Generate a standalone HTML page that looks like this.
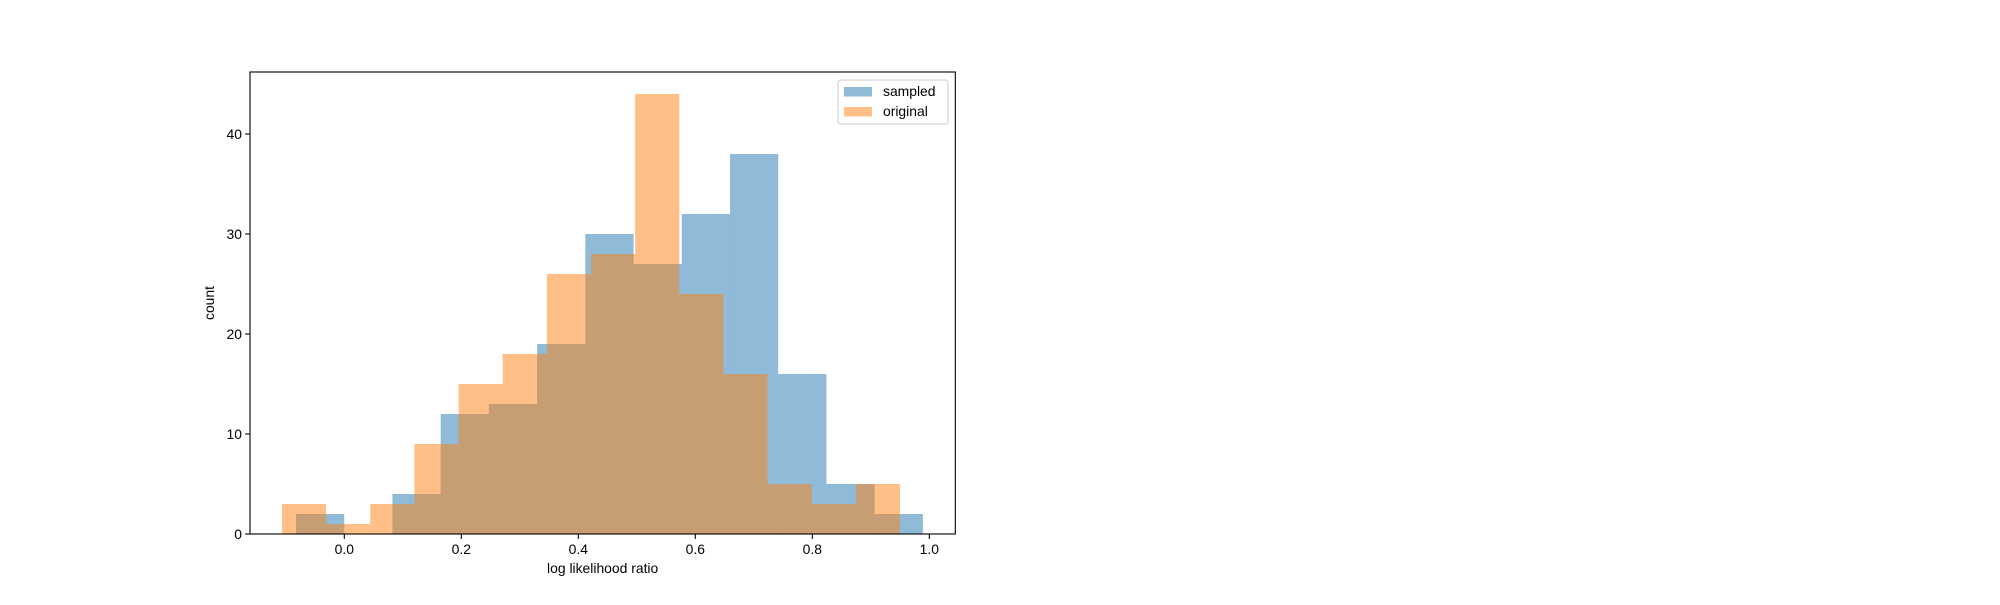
<!DOCTYPE html>
<html><head><meta charset="utf-8"><style>
html,body{margin:0;padding:0;background:#fff;}
svg text{font-family:"Liberation Sans","DejaVu Sans",sans-serif;font-size:13.9px;fill:#000;}
</style></head>
<body>
<svg id="chart" width="2000" height="600" xmlns="http://www.w3.org/2000/svg">
<rect width="2000" height="600" fill="#fff"/>
<g id="bars"></g>
<g id="axes"></g>
</svg>
<script>
const sampledStart = -0.0826;
const sampledEnd = 0.989;
const sampledCounts = [2,0,4,12,13,19,30,27,32,38,16,5,2];
const originalStart = -0.1066;
const originalEnd = 0.950;
const originalCounts = [3,1,3,9,15,18,26,28,44,24,16,5,3,5];
const xTicks = [0.0,0.2,0.4,0.6,0.8,1.0];
const xTickLabels = ["0.0","0.2","0.4","0.6","0.8","1.0"];
const yTicks = [0,10,20,30,40];
const yTickLabels = ["0","10","20","30","40"];

const L=250,R=955.3,T=72,B=534;
const xMin=-0.1612,xMax=1.0444,yMin=0,yMax=46.2;
const sx=v=>L+(v-xMin)/(xMax-xMin)*(R-L);
const sy=v=>B-(v-yMin)/(yMax-yMin)*(B-T);
const NS="http://www.w3.org/2000/svg";
const bars=document.getElementById('bars');
const axes=document.getElementById('axes');
function mk(tag,attrs,parent){const e=document.createElementNS(NS,tag);for(const k in attrs)e.setAttribute(k,attrs[k]);parent.appendChild(e);return e;}

function drawHist(start,end,counts,color,name){
  const w=(end-start)/counts.length;
  counts.forEach((c,i)=>{
    if(c<=0)return;
    const x0=sx(start+i*w),x1=sx(start+(i+1)*w);
    const r=mk('rect',{x:x0,y:sy(c),width:x1-x0,height:sy(0)-sy(c),fill:color,'fill-opacity':0.5},bars);
    
    
  });
}
drawHist(sampledStart,sampledEnd,sampledCounts,'#1f77b4','sampled');
drawHist(originalStart,originalEnd,originalCounts,'#ff7f0e','original');

const fr=mk('rect',{x:L,y:T,width:R-L,height:B-T,fill:'none',stroke:'#000','stroke-width':1.1},axes);



xTicks.forEach((v,i)=>{
  const x=sx(v);
  const t=mk('line',{x1:x,x2:x,y1:B,y2:B+4.9,stroke:'#000','stroke-width':1.1},axes);
  
  
  const lb=mk('text',{x:x,y:B+20,'text-anchor':'middle'},axes);
  lb.textContent=xTickLabels[i];
  
  
});
yTicks.forEach((v,i)=>{
  const y=sy(v);
  const t=mk('line',{x1:L-4.9,x2:L,y1:y,y2:y,stroke:'#000','stroke-width':1.1},axes);
  
  
  const lb=mk('text',{x:L-8,y:y+5,'text-anchor':'end'},axes);
  lb.textContent=yTickLabels[i];
  
  
});
const xl=mk('text',{x:(L+R)/2,y:573,'text-anchor':'middle'},axes);
xl.textContent='log likelihood ratio';


const yl=mk('text',{x:0,y:0,'text-anchor':'middle',transform:'translate(214,'+((T+B)/2)+') rotate(-90)'},axes);
yl.textContent='count';



const lg=mk('g',{},axes);


mk('rect',{x:838,y:80,width:110,height:44,rx:3,fill:'#fff','fill-opacity':0.8,stroke:'#ccc','stroke-width':1},lg);
const e1=mk('rect',{x:844,y:87,width:28,height:9.5,fill:'#1f77b4','fill-opacity':0.5},lg);


const t1=mk('text',{x:883,y:96},lg);t1.textContent='sampled';


const e2=mk('rect',{x:844,y:107,width:28,height:9.5,fill:'#ff7f0e','fill-opacity':0.5},lg);


const t2=mk('text',{x:883,y:116},lg);t2.textContent='original';


</script>
</body></html>
